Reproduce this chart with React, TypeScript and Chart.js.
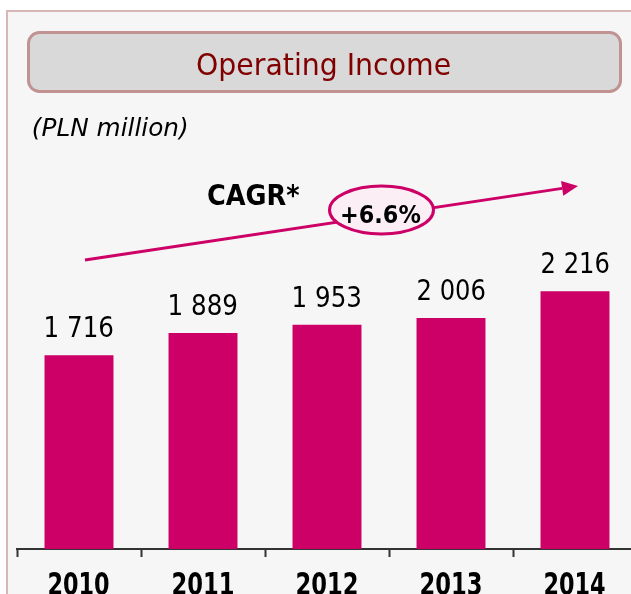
import { useEffect, useRef } from "react";
import { Chart, registerables } from "chart.js";

Chart.register(...registerables);

const categories = ["2010", "2011", "2012", "2013", "2014"];
const values = [1716, 1889, 1953, 2006, 2216];
const valueLabels = ["1 716", "1 889", "1 953", "2 006", "2 216"];
const titleText = "Operating Income";
const unitText = "(PLN million)";
const cagrLabel = "CAGR*";
const cagrValue = "+6.6%";

const FONT = '"DejaVu Sans Condensed", "DejaVu Sans", sans-serif';
const BAR = "#cc0066";
const CAP = 0.729;

// Draw text sized by cap height and stretched horizontally to an ink width
function drawFit(
  ctx: CanvasRenderingContext2D,
  text: string,
  x: number,
  baseline: number,
  opts: { weight?: string; style?: string; cap: number; width: number; align: "left" | "center"; color: string }
) {
  const size = opts.cap / CAP;
  ctx.save();
  ctx.font = `${opts.style || "normal"} ${opts.weight || "normal"} ${size}px ${FONT}`;
  ctx.textAlign = "left";
  ctx.textBaseline = "alphabetic";
  const m = ctx.measureText(text);
  const inkL = m.actualBoundingBoxLeft;
  const inkW = m.actualBoundingBoxRight + m.actualBoundingBoxLeft;
  const sx = opts.width / inkW;
  const left = opts.align === "center" ? x - opts.width / 2 : x;
  ctx.translate(left, baseline);
  ctx.scale(sx, 1);
  ctx.fillStyle = opts.color;
  ctx.fillText(text, inkL, 0);
  ctx.restore();
}

export default function App() {
  const ref = useRef<HTMLCanvasElement | null>(null);

  useEffect(() => {
    const canvas = ref.current!;

    const deco = {
      id: "deco",
      beforeDraw(chart: any) {
        const ctx: CanvasRenderingContext2D = chart.ctx;
        ctx.save();
        ctx.fillStyle = "#ffffff";
        ctx.fillRect(0, 0, chart.width, chart.height);
        ctx.fillStyle = "#f6f6f6";
        ctx.fillRect(7, 11, chart.width, chart.height);
        ctx.strokeStyle = "#d6b6b6";
        ctx.lineWidth = 2;
        ctx.strokeRect(7, 11, chart.width + 20, chart.height + 20);

        // title box
        ctx.beginPath();
        (ctx as any).roundRect(28.5, 32.5, 592, 59, 11);
        ctx.fillStyle = "#d9d9d9";
        ctx.fill();
        ctx.strokeStyle = "#c09292";
        ctx.lineWidth = 3;
        ctx.stroke();
        ctx.restore();

        drawFit(ctx, titleText, 197, 74.5, { cap: 22.5, width: 253, align: "left", color: "#800000" });
        drawFit(ctx, unitText, 33, 136, { style: "italic", cap: 17.7, width: 154, align: "left", color: "#000000" });
      },
      afterDatasetsDraw(chart: any) {
        const ctx: CanvasRenderingContext2D = chart.ctx;
        // value labels
        const meta = chart.getDatasetMeta(0);
        meta.data.forEach((bar: any, i: number) => {
          drawFit(ctx, valueLabels[i], bar.x, bar.y - 18.3, { cap: 21, width: 67, align: "center", color: "#000000" });
        });

        // year labels on x axis
        const xs = chart.scales.x;
        categories.forEach((_, i) => {
          const px = xs.getPixelForTick(i);
          drawFit(ctx, xs.getLabelForValue(i), px, 595, {
            weight: "bold",
            cap: 23,
            width: 60,
            align: "center",
            color: "#000000",
          });
        });

        // CAGR label
        drawFit(ctx, cagrLabel, 208, 205, { weight: "bold", cap: 21, width: 92, align: "left", color: "#000000" });

        ctx.save();
        // arrow
        const x0 = 85, y0 = 260, x1 = 578, y1 = 186;
        const ang = Math.atan2(y1 - y0, x1 - x0);
        const hl = 16, hw = 7.5;
        const bx = x1 - hl * Math.cos(ang), by = y1 - hl * Math.sin(ang);
        ctx.strokeStyle = BAR;
        ctx.fillStyle = BAR;
        ctx.lineWidth = 3;
        ctx.beginPath();
        ctx.moveTo(x0, y0);
        ctx.lineTo(bx, by);
        ctx.stroke();
        ctx.beginPath();
        ctx.moveTo(x1, y1);
        ctx.lineTo(bx + hw * Math.sin(ang), by - hw * Math.cos(ang));
        ctx.lineTo(bx - hw * Math.sin(ang), by + hw * Math.cos(ang));
        ctx.closePath();
        ctx.fill();

        // ellipse
        ctx.beginPath();
        ctx.ellipse(381.5, 210, 52, 24, 0, 0, Math.PI * 2);
        ctx.fillStyle = "#fbeef4";
        ctx.fill();
        ctx.strokeStyle = BAR;
        ctx.lineWidth = 3;
        ctx.stroke();
        ctx.restore();

        drawFit(ctx, cagrValue, 381.5, 222.5, { weight: "bold", cap: 18.5, width: 79, align: "center", color: "#000000" });
      },
    };

    const chart = new Chart(canvas, {
      type: "bar",
      data: {
        labels: categories,
        datasets: [
          {
            data: values,
            backgroundColor: BAR,
            borderWidth: 0,
            categoryPercentage: 1,
            barPercentage: 0.556,
          },
        ],
      },
      options: {
        animation: false,
        responsive: false,
        maintainAspectRatio: false,
        devicePixelRatio: 1,
        layout: { padding: { left: 17, right: 23, top: 191, bottom: 0 } },
        plugins: { legend: { display: false }, tooltip: { enabled: false }, title: { display: false } },
        scales: {
          x: {
            afterFit: (scale: any) => {
              scale.height = 45;
            },
            border: { display: true, color: "#333333", width: 2 },
            grid: {
              offset: true,
              drawOnChartArea: false,
              drawTicks: true,
              tickLength: 8,
              tickWidth: 2,
              tickColor: "#333333",
              color: "#333333",
            },
            ticks: { display: false },
          },
          y: { display: false, min: 200, max: 3000 },
        },
      },
      plugins: [deco],
    });
    return () => chart.destroy();
  }, []);

  return (
    <div style={{ position: "fixed", left: 0, top: 0, width: 631, height: 594, overflow: "hidden" }}>
      <canvas ref={ref} width={660} height={594} style={{ display: "block", width: 660, height: 594 }} />
    </div>
  );
}
